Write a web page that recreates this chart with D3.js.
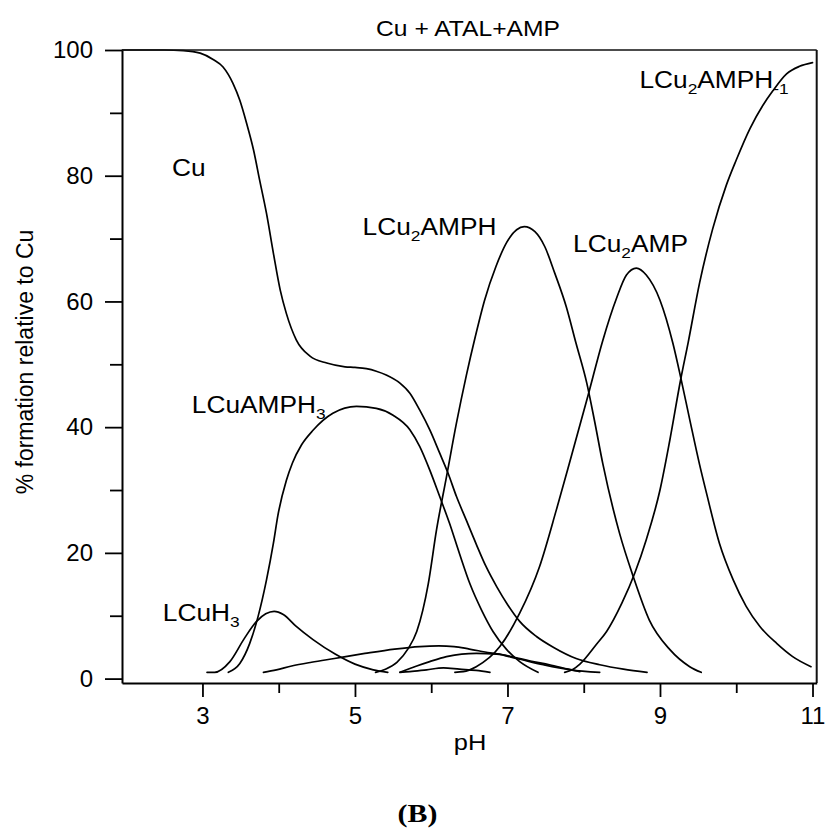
<!DOCTYPE html>
<html>
<head>
<meta charset="utf-8">
<script src="https://cdn.jsdelivr.net/npm/d3@7"></script>
<style>
  body { margin: 0; background: #fff; }
  svg { display: block; }
  text { font-family: "Liberation Sans", Arial, Helvetica, sans-serif; fill: #000; }
</style>
</head>
<body>
<svg id="chart" width="829" height="830"></svg>
<script>
// Distribution of copper species (% of total Cu) against pH, Cu + ATAL + AMP system

// Free Cu
const cuPH  = [1.95, 2.5, 2.75, 2.97, 3.14, 3.27, 3.40, 3.49, 3.58, 3.67, 3.75, 3.84, 3.93, 4.02, 4.10, 4.23, 4.41, 4.63, 4.87, 5.00, 5.15, 5.28, 5.41, 5.59, 5.72, 5.85, 5.98, 6.11, 6.22, 6.33, 6.46, 6.59, 6.72, 6.86, 7.00, 7.16, 7.38, 7.60, 7.90, 8.21, 8.52, 8.83];
const cuPct = [100, 100, 99.9, 99.5, 98.5, 97.3, 94.7, 92.0, 88.3, 84.1, 79.3, 74.0, 67.7, 61.8, 58.1, 53.9, 51.3, 50.2, 49.6, 49.5, 49.3, 48.9, 48.3, 47.0, 45.4, 42.7, 39.6, 35.9, 32.7, 29.0, 25.2, 21.4, 17.8, 14.6, 11.8, 9.1, 6.7, 5.0, 3.2, 2.2, 1.5, 1.0];

// LCuAMPH3
const lcuamph3PH  = [3.34, 3.49, 3.62, 3.73, 3.84, 3.93, 3.99, 4.10, 4.18, 4.30, 4.45, 4.71, 5.02, 5.28, 5.50, 5.72, 5.85, 5.98, 6.11, 6.24, 6.37, 6.51, 6.66, 6.81, 6.99, 7.16, 7.40];
const lcuamph3Pct = [1.0, 2.4, 5.6, 9.9, 15.7, 21.5, 26.0, 31.5, 34.3, 37.2, 39.5, 42.2, 43.3, 43.0, 41.9, 39.6, 36.9, 33.2, 29.0, 24.7, 19.9, 15.0, 10.9, 7.5, 4.6, 2.7, 1.0];

// LCuH3
const lcuh3PH  = [3.06, 3.16, 3.36, 3.55, 3.71, 3.83, 3.94, 4.06, 4.23, 4.45, 4.74, 5.00, 5.24, 5.43];
const lcuh3Pct = [1.0, 1.0, 2.7, 6.4, 9.1, 10.3, 10.7, 10.2, 8.3, 6.2, 3.9, 2.3, 1.4, 1.0];

// LCu2AMPH
const lcu2amphPH  = [5.27, 5.40, 5.55, 5.70, 5.81, 5.89, 5.96, 6.07, 6.20, 6.33, 6.46, 6.58, 6.70, 6.85, 6.99, 7.12, 7.22, 7.36, 7.49, 7.62, 7.77, 7.90, 8.04, 8.14, 8.25, 8.47, 8.65, 8.86, 9.13, 9.39, 9.54];
const lcu2amphPct = [1.0, 1.5, 2.6, 4.8, 7.5, 10.9, 15.0, 23.7, 32.1, 40.6, 48.2, 54.5, 60.2, 65.6, 69.4, 71.4, 71.9, 71.1, 68.7, 64.5, 59.2, 53.3, 47.0, 41.1, 34.2, 23.1, 16.2, 9.3, 4.6, 1.9, 1.0];

// LCu2AMP
const lcu2ampPH  = [6.31, 6.42, 6.59, 6.90, 7.16, 7.42, 7.64, 7.84, 8.06, 8.25, 8.43, 8.56, 8.69, 8.82, 9.00, 9.17, 9.27, 9.39, 9.52, 9.61, 9.78, 9.96, 10.13, 10.31, 10.53, 10.74, 10.98];
const lcu2ampPct = [1.0, 1.1, 1.9, 5.1, 10.4, 17.8, 26.8, 35.5, 45.2, 53.8, 60.5, 64.2, 65.3, 64.2, 60.2, 53.3, 48.0, 41.2, 34.0, 29.5, 21.5, 15.7, 11.5, 8.3, 5.6, 3.5, 1.9];

// LCu2AMPH-1
const lcu2amphm1PH  = [7.75, 7.85, 7.95, 8.17, 8.30, 8.50, 8.67, 8.82, 9.00, 9.13, 9.27, 9.37, 9.52, 9.69, 9.87, 10.00, 10.18, 10.35, 10.48, 10.66, 10.83, 11.00];
const lcu2amphm1Pct = [1.0, 1.4, 2.3, 5.5, 7.5, 12.0, 16.8, 22.1, 30.0, 38.0, 47.5, 53.5, 63.0, 71.5, 78.5, 82.5, 87.5, 91.2, 93.5, 96.2, 97.4, 98.0];

// Minor species (unlabelled, below ~5 %)
const minorAPH  = [3.80, 3.97, 4.17, 4.43, 4.73, 5.13, 5.52, 5.85, 6.10, 6.30, 6.50, 6.77, 6.94, 7.12, 7.30, 7.55, 7.80, 7.95];
const minorAPct = [1.0, 1.4, 2.0, 2.6, 3.2, 4.0, 4.7, 5.1, 5.2, 5.1, 4.7, 4.1, 3.8, 3.3, 2.8, 2.2, 1.5, 1.1];
const minorBPH  = [5.59, 5.72, 5.81, 5.98, 6.20, 6.40, 6.59, 6.86, 7.12, 7.47, 7.82, 8.21];
const minorBPct = [1.0, 1.6, 2.0, 2.7, 3.5, 3.9, 4.0, 3.9, 3.2, 2.2, 1.4, 1.0];
const minorCPH  = [5.59, 5.72, 5.94, 6.16, 6.37, 6.59, 6.77];
const minorCPct = [1.0, 1.1, 1.4, 1.7, 1.5, 1.3, 1.0];

// Axis ticks
const xMajorTicks = [3, 5, 7, 9, 11];
const xMinorTicks = [4, 6, 8, 10];
const yMajorTicks = [0, 20, 40, 60, 80, 100];
const yMinorTicks = [10, 30, 50, 70, 90];

// Texts
const chartTitle = "Cu + ATAL+AMP";
const xTitle = "pH";
const yTitle = "% formation relative to Cu";
const panelTag = "(B)";

// ---------------------------------------------------------------
const svg = d3.select("#chart");
const x = d3.scaleLinear().domain([1.945, 11.055]).range([122, 816.7]);
const y = d3.scaleLinear().domain([-0.7, 100]).range([683, 50]);

const line = d3.line()
  .x(d => x(d[0]))
  .y(d => y(d[1]))
  .curve(d3.curveMonotoneX);

const series = [
  [cuPH, cuPct],
  [lcuamph3PH, lcuamph3Pct],
  [lcuh3PH, lcuh3Pct],
  [lcu2amphPH, lcu2amphPct],
  [lcu2ampPH, lcu2ampPct],
  [lcu2amphm1PH, lcu2amphm1Pct],
  [minorAPH, minorAPct],
  [minorBPH, minorBPct],
  [minorCPH, minorCPct]
];

const curves = svg.append("g").attr("class", "curves");
series.forEach(([ph, pct]) => {
  curves.append("path")
    .attr("d", line(d3.zip(ph, pct)))
    .attr("fill", "none")
    .attr("stroke", "#000")
    .attr("stroke-width", 1.7)
    .attr("stroke-linejoin", "round")
    .attr("stroke-linecap", "round");
});

// Frame: top and right borders
svg.append("line").attr("x1", x.range()[0]).attr("x2", x.range()[1])
  .attr("y1", y.range()[1]).attr("y2", y.range()[1])
  .attr("stroke", "#111").attr("stroke-width", 1.6);
svg.append("line").attr("x1", x.range()[1]).attr("x2", x.range()[1])
  .attr("y1", y.range()[1]).attr("y2", y.range()[0])
  .attr("stroke", "#111").attr("stroke-width", 2);

// Y axis
const yAxis = svg.append("g")
  .attr("transform", `translate(${x.range()[0]},0)`)
  .call(d3.axisLeft(y).tickValues(yMajorTicks).tickSize(17).tickSizeOuter(0)
    .tickPadding(12).tickFormat(d3.format("d")))
  .attr("font-size", 24);
yAxis.select(".domain").attr("stroke-width", 2);
yAxis.selectAll(".tick line").attr("stroke-width", 1.8);

const yMinor = svg.append("g")
  .attr("transform", `translate(${x.range()[0]},0)`)
  .call(d3.axisLeft(y).tickValues(yMinorTicks).tickSize(12).tickFormat(""));
yMinor.select(".domain").remove();
yMinor.selectAll(".tick line").attr("stroke-width", 1.8);

// X axis
const xAxis = svg.append("g")
  .attr("transform", `translate(0,${y.range()[0]})`)
  .call(d3.axisBottom(x).tickValues(xMajorTicks).tickSize(14).tickSizeOuter(0)
    .tickPadding(10).tickFormat(d3.format("d")))
  .attr("font-size", 24);
xAxis.select(".domain").attr("stroke-width", 2);
xAxis.selectAll(".tick line").attr("stroke-width", 1.8);

const xMinor = svg.append("g")
  .attr("transform", `translate(0,${y.range()[0]})`)
  .call(d3.axisBottom(x).tickValues(xMinorTicks).tickSize(10).tickFormat(""));
xMinor.select(".domain").remove();
xMinor.selectAll(".tick line").attr("stroke-width", 1.8);

// Species labels: parts are [text, isSubscript]
function speciesLabel(parts, ph, pct) {
  const t = svg.append("text")
    .attr("transform", `translate(${x(ph)},${y(pct)}) scale(1.12,1)`)
    .attr("font-size", 23.5);
  let shifted = false;
  parts.forEach(([txt, sub]) => {
    const ts = t.append("tspan").text(txt);
    if (sub && !shifted) { ts.attr("dy", 6).attr("font-size", 15.5); shifted = true; }
    else if (sub) { ts.attr("font-size", 15.5); }
    else if (shifted) { ts.attr("dy", -6); shifted = false; }
  });
  return t;
}

speciesLabel([["Cu", false]], 2.60, 80.0);
speciesLabel([["LCu", false], ["2", true], ["AMPH", false]], 5.10, 70.6);
speciesLabel([["LCu", false], ["2", true], ["AMP", false]], 7.86, 67.9);
speciesLabel([["LCu", false], ["2", true], ["AMPH", false], ["-1", true]], 8.73, 94.0);
speciesLabel([["LCuAMPH", false], ["3", true]], 2.86, 42.3);
speciesLabel([["LCuH", false], ["3", true]], 2.48, 9.2);

// Titles
svg.append("text")
  .attr("transform", "translate(468,36) scale(1.12,1)")
  .attr("text-anchor", "middle")
  .attr("font-size", 22)
  .text(chartTitle);

svg.append("text")
  .attr("transform", "translate(470,750) scale(1.13,1)")
  .attr("text-anchor", "middle")
  .attr("font-size", 22.5)
  .text(xTitle);

svg.append("text")
  .attr("transform", "translate(33,362) rotate(-90)")
  .attr("text-anchor", "middle")
  .attr("font-size", 23)
  .text(yTitle);

svg.append("text")
  .attr("transform", "translate(417.5,822) scale(1.15,1)")
  .attr("text-anchor", "middle")
  .style("font-family", "'Liberation Serif', 'Times New Roman', serif")
  .attr("font-weight", "bold")
  .attr("font-size", 26)
  .text(panelTag);
</script>
</body>
</html>
